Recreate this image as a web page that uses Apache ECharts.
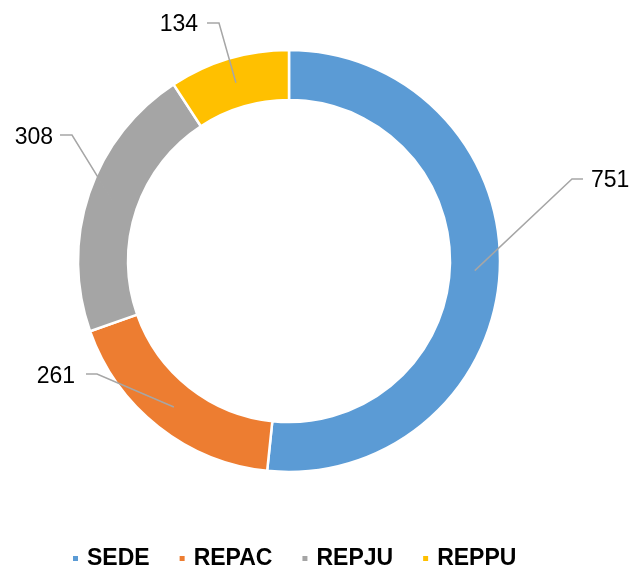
<!DOCTYPE html>
<html>
<head>
<meta charset="utf-8">
<script src="https://cdn.jsdelivr.net/npm/echarts@6/dist/echarts.min.js"></script>
<style>html,body{margin:0;padding:0;background:#fff;}#c{width:633px;height:567px;}</style>
</head>
<body>
<div id="c"></div>
<script>
const categories = ['SEDE', 'REPAC', 'REPJU', 'REPPU'];
const values = [751, 261, 308, 134];
const colors = ['#5B9BD5', '#ED7D31', '#A5A5A5', '#FFC000'];

// label layout: [elbowX, elbowY, endX, labelX, labelY, align]
const labelSpots = [
  [572, 179, 583, 591, 180.5, 'left'],
  [97, 374, 86, 75, 377, 'right'],
  [72, 135, 60, 53, 138, 'right'],
  [219, 23, 207, 198, 25, 'right']
];
const CX = 289, CY = 261, R_IN = 161, R_OUT = 211;
const R_MID = (R_IN + R_OUT) / 2;

const chart = echarts.init(document.getElementById('c'));
const baseData = categories.map((n, i) => ({ name: n, value: values[i], itemStyle: { color: colors[i] } }));
chart.setOption({
  animation: false,
  legend: {
    data: categories,
    top: 547,
    left: 71,
    padding: 0,
    icon: 'rect',
    itemWidth: 7,
    itemHeight: 7,
    itemGap: 28,
    textStyle: { fontFamily: 'Liberation Sans, Arial', fontWeight: 'bold', fontSize: 23, color: '#000', padding: [0, 0, 0, 3] }
  },
  series: [{
    type: 'pie',
    z: 2,
    center: [CX, CY],
    radius: [R_IN, R_OUT],
    startAngle: 90,
    clockwise: true,
    silent: true,
    data: baseData,
    itemStyle: { borderColor: '#fff', borderWidth: 2.5 },
    label: { show: false },
    labelLine: { show: false }
  }, {
    type: 'pie',
    z: 5,
    center: [CX, CY],
    radius: [R_IN, R_OUT],
    startAngle: 90,
    clockwise: true,
    silent: true,
    avoidLabelOverlap: false,
    data: categories.map((n, i) => ({ name: n, value: values[i] })),
    itemStyle: { color: 'rgba(0,0,0,0)', borderWidth: 0 },
    label: {
      show: true,
      formatter: '{c}',
      fontFamily: 'Liberation Sans, Arial',
      fontSize: 23,
      color: '#000'
    },
    labelLine: { show: true, length: 10, length2: 10, lineStyle: { color: '#A6A6A6', width: 1.5 } },
    labelLayout: function (p) {
      const s = labelSpots[p.dataIndex];
      const pts = p.labelLinePoints;
      let start = [CX, CY];
      if (pts && pts.length) {
        const dx = pts[0][0] - CX, dy = pts[0][1] - CY;
        const d = Math.sqrt(dx * dx + dy * dy) || 1;
        start = [CX + dx / d * R_MID, CY + dy / d * R_MID];
      }
      return {
        x: s[3], y: s[4], align: s[5], verticalAlign: 'middle',
        labelLinePoints: [start, [s[0], s[1]], [s[2], s[1]]]
      };
    }
  }]
});
</script>
</body>
</html>
